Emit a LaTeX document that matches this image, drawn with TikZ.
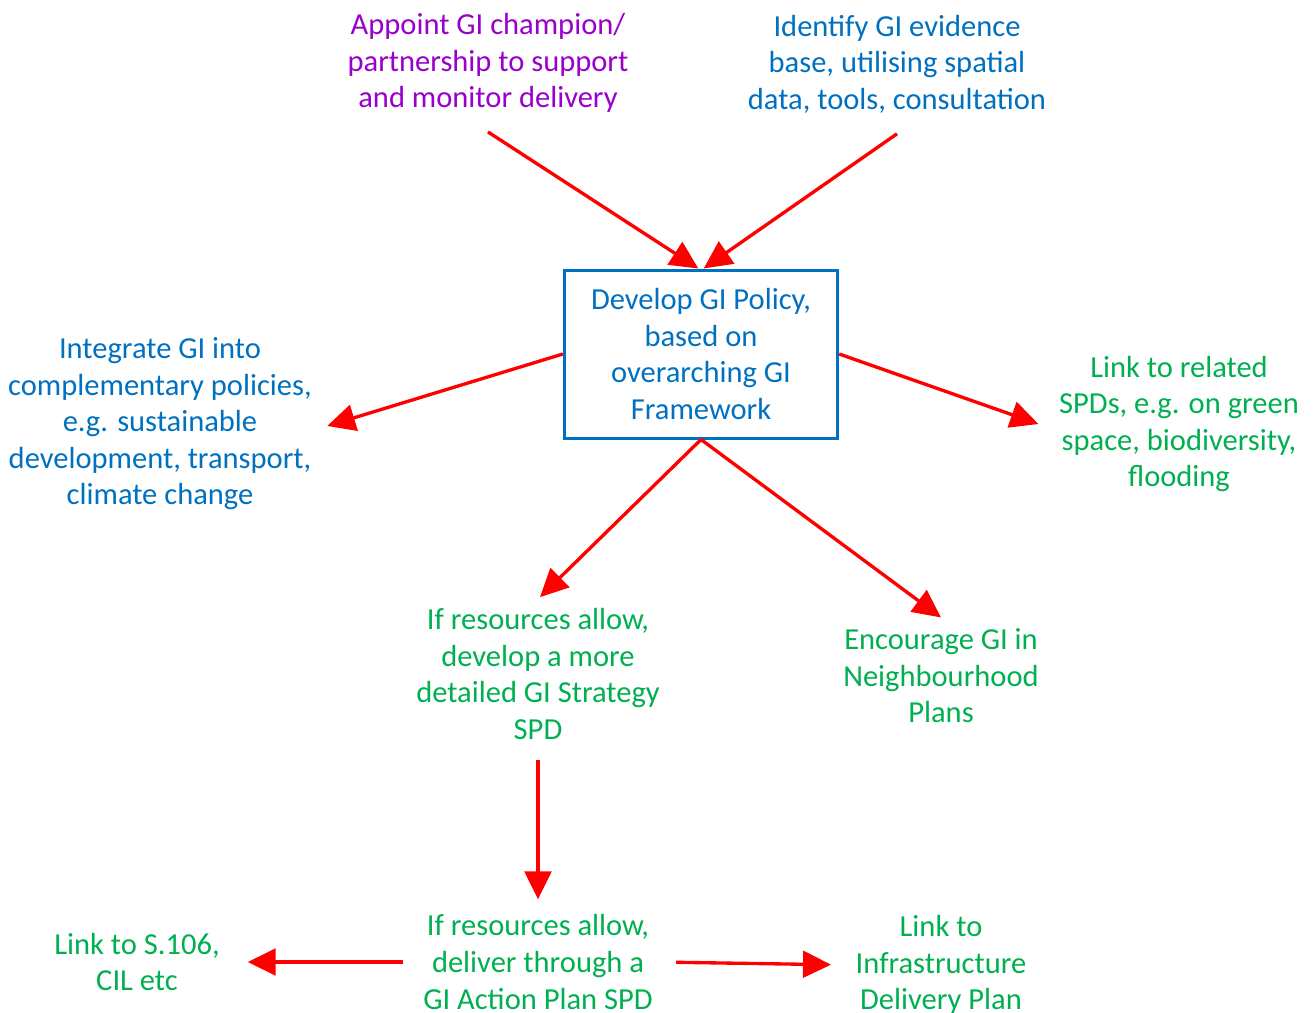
\documentclass[tikz,border=0pt]{standalone}
\usepackage{fontspec}
\setmainfont{Carlito}
\usetikzlibrary{positioning, arrows.meta}
\definecolor{giblue}{RGB}{0,112,192}
\definecolor{gigreen}{RGB}{0,176,80}
\definecolor{gipurple}{RGB}{153,0,204}
\definecolor{gired}{RGB}{255,0,0}
\tikzstyle{policy} = [
  rectangle,
  minimum width=205pt, minimum height=126pt,
  text centered, align=center,
  draw=giblue, line width=2.25pt, text=giblue
]
\tikzstyle{bluetext} = [text centered, align=center, text=giblue]
\tikzstyle{greentext} = [text centered, align=center, text=gigreen]
\tikzstyle{purpletext} = [text centered, align=center, text=gipurple]
\tikzset{
  arrow/.style={
    draw=gired, line width=2.5pt,
    -{Triangle[length=21pt,width=20pt]}
  }
}

\begin{document}
\begin{tikzpicture}[
  x=0.75pt, y=-0.75pt,
  font=\fontsize{22.9}{27.4}\selectfont
]
\useasboundingbox (0,0) rectangle (1313,1013);

% ------------------------------------------------
% ARRIBA: 2 textos
% ------------------------------------------------

% n1: campeon / partenariado
\node[purpletext] (n1) at (488,63) {%
  Appoint GI champion/\\
  partnership to support\\
  and monitor delivery
};

% n2: base de evidencia
\node[bluetext] (n2) at (897,64) {%
  Identify GI evidence\\
  base, utilising spatial\\
  data, tools, consultation
};

% ------------------------------------------------
% CENTRO: caja + lados
% ------------------------------------------------

% n3: politica GI
\node[policy] (n3) at (701,354) {%
  Develop GI Policy,\\
  based on\\
  overarching GI\\
  Framework
};

% n4: politicas complementarias
\node[bluetext] (n4) at (160,424) {%
  Integrate GI into\\
  complementary policies,\\
  e.g. sustainable\\
  development, transport,\\
  climate change
};

% n5: SPDs relacionados
\node[greentext] (n5) at (1179,424) {%
  Link to related\\
  SPDs, e.g. on green\\
  space, biodiversity,\\
  flooding
};

% ------------------------------------------------
% MEDIO: estrategia + vecindario
% ------------------------------------------------

% n6: estrategia SPD
\node[greentext] (n6) at (538,674) {%
  If resources allow,\\
  develop a more\\
  detailed GI Strategy\\
  SPD
};

% n7: planes de vecindario
\node[greentext] (n7) at (941,676) {%
  Encourage GI in\\
  Neighbourhood\\
  Plans
};

% ------------------------------------------------
% ABAJO: 3 textos
% ------------------------------------------------

% n8: plan de accion
\node[greentext] (n8) at (538,962) {%
  If resources allow,\\
  deliver through a\\
  GI Action Plan SPD
};

% n9: S.106 / CIL
\node[greentext] (n9) at (137,962) {%
  Link to S.106,\\
  CIL etc
};

% n10: plan de infraestructura
\node[greentext] (n10) at (941,965) {%
  Link to\\
  Infrastructure\\
  Delivery Plan
};

% ------------------------------------------------
% FLECHAS
% ------------------------------------------------

% Hacia la caja central
\draw[arrow] ([yshift=-11pt]n1.south) -- ([xshift=-2pt]n3.north);
\draw[arrow] ([yshift=-12pt]n2.south) -- ([xshift=2pt]n3.north);

% Desde la caja hacia los lados
\draw[arrow] (n3.west) -- ([xshift=8pt,yshift=-1.5pt]n4.east);
\draw[arrow] (n3.east) -- ([xshift=-12pt]n5.west);

% Desde la caja hacia abajo
\draw[arrow] (n3.south) -- ([xshift=1.5pt,yshift=5pt]n6.north);
\draw[arrow] (n3.south) -- ([yshift=5pt]n7.north);

% Estrategia -> plan de accion
\draw[arrow, shorten <=12pt, shorten >=8pt] (n6.south) -- (n8.north);

% Plan de accion -> lados
\draw[arrow, shorten <=12pt, shorten >=17.5pt] (n8.west) -- (n9.east);
\draw[arrow, shorten <=14pt, shorten >=15pt] (n8.east) -- (n10.west);

\end{tikzpicture}
\end{document}
